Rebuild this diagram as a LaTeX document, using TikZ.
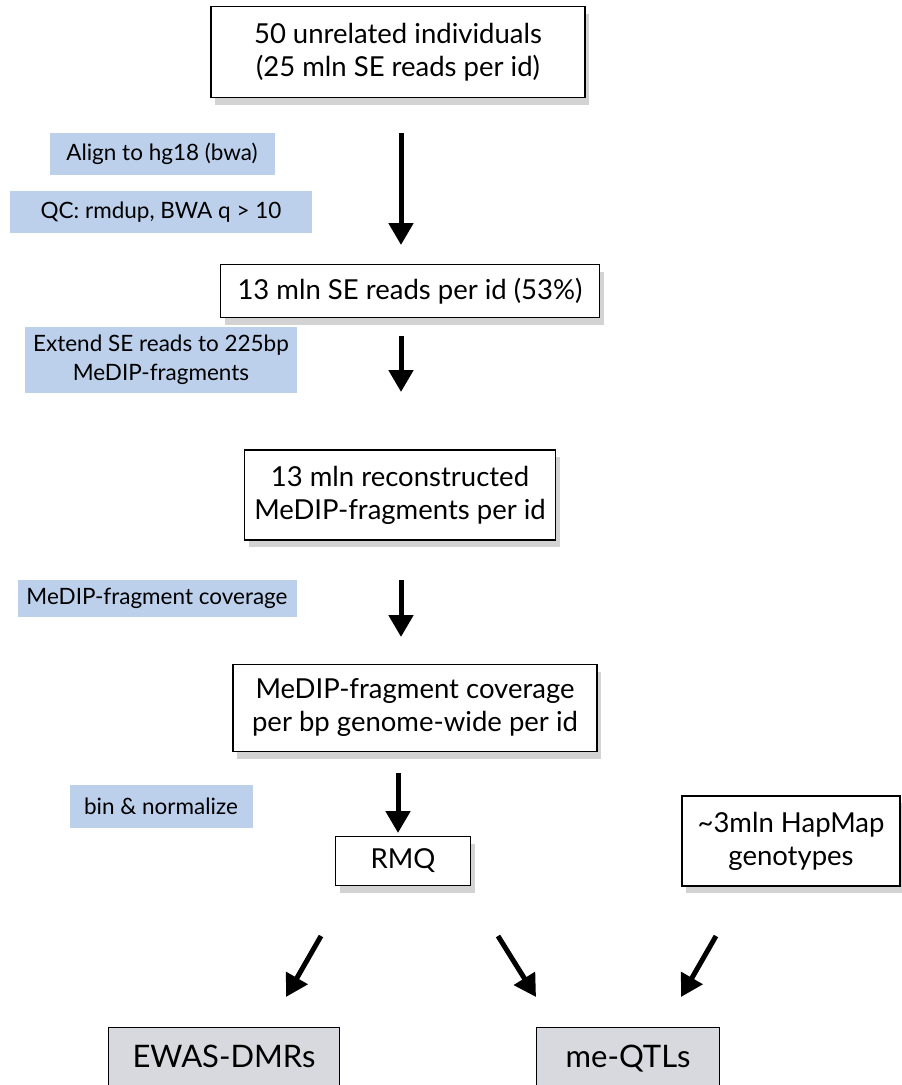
\documentclass[tikz,border=0pt]{standalone}
\usepackage{fontspec}
\setsansfont{Lato}
\usetikzlibrary{positioning,arrows.meta,shadows}
\definecolor{stepfill}{HTML}{BCD0EC}
\definecolor{resultfill}{HTML}{D8D9DE}

\begin{document}
\begin{tikzpicture}[x=1pt, y=-1pt,
  font=\sffamily,
  box/.style={draw=black, line width=1.3pt, fill=white, align=center, inner sep=0pt, font=\sffamily\fontsize{27.5}{33}\selectfont, drop shadow={shadow xshift=4pt, shadow yshift=-7pt, opacity=.35}},
  step label/.style={fill=stepfill, align=center, inner sep=0pt, font=\sffamily\fontsize{22.5}{29}\selectfont},
  result/.style={draw=black, line width=1.3pt, fill=resultfill, anchor=north, inner xsep=0pt, inner ysep=0pt, text height=40pt, text depth=28pt, font=\sffamily\fontsize{31}{36}\selectfont},
  flow/.style={-{Triangle[length=22pt, width=24pt]}, line width=5pt, draw=black},
]
\useasboundingbox (0,0) rectangle (902,1085);
\clip (0,0) rectangle (902,1085);

% main column
\node[box, minimum width=374pt, minimum height=91pt] (reads) at (398,52) {50 unrelated individuals\\(25 mln SE reads per id)};
\node[box, minimum width=379pt, minimum height=53pt] (aligned) at (410,291) {13 mln SE reads per id (53\%)};
\node[box, minimum width=311pt, minimum height=90pt] (frags) at (400,495) {13 mln reconstructed\\MeDIP-fragments per id};
\node[box, minimum width=364pt, minimum height=87pt] (cover) at (415,708) {MeDIP-fragment coverage\\per bp genome-wide per id};
\node[box, minimum width=135pt, minimum height=49pt] (rmq) at (403,861) {RMQ};
\node[box, minimum width=218pt, minimum height=90pt] (hapmap) at (791,841) {\textasciitilde 3mln HapMap\\genotypes};

% processing steps
\node[step label, minimum width=225pt, minimum height=42pt] (align) at (162,154) {Align to hg18 (bwa)};
\node[step label, minimum width=302pt, minimum height=42pt] (qc) at (161,212) {QC: rmdup, BWA q > 10};
\node[step label, minimum width=272pt, minimum height=66pt] (extend) at (161,360) {Extend SE reads to 225bp\\MeDIP-fragments};
\node[step label, minimum width=279pt, minimum height=37pt] (medip) at (157,598) {MeDIP-fragment coverage};
\node[step label, minimum width=183pt, minimum height=43pt] (binning) at (161,806) {bin \& normalize};

% outcomes
\node[result, minimum width=231pt] (ewas) at (224,1027) {EWAS-DMRs};
\node[result, minimum width=183pt] (meqtl) at (628,1027) {me-QTLs};

% arrows
\coordinate (a1s) at (401,133);  \coordinate (a1e) at (401,245);
\coordinate (a2s) at (401,336);  \coordinate (a2e) at (401,392);
\coordinate (a3s) at (401,580);  \coordinate (a3e) at (401,637);
\coordinate (a4s) at (398,773);  \coordinate (a4e) at (398,833);
\coordinate (d1s) at (321,936);  \coordinate (d1e) at (286,997);
\coordinate (d2s) at (498,936);  \coordinate (d2e) at (536,997);
\coordinate (d3s) at (716,936);  \coordinate (d3e) at (681,997);
\draw[flow] (a1s) -- (a1e);
\draw[flow] (a2s) -- (a2e);
\draw[flow] (a3s) -- (a3e);
\draw[flow] (a4s) -- (a4e);
\draw[flow] (d1s) -- (d1e);
\draw[flow] (d2s) -- (d2e);
\draw[flow] (d3s) -- (d3e);
\end{tikzpicture}
\end{document}
